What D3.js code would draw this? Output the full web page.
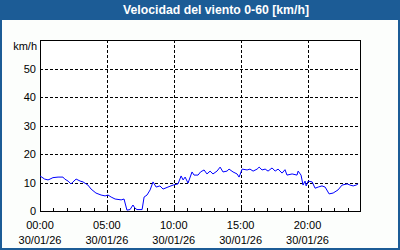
<!DOCTYPE html>
<html>
<head>
<meta charset="utf-8">
<script src="https://cdn.jsdelivr.net/npm/d3@7"></script>
<style>
  body { margin: 0; background: #fff; }
  text { font-family: "Liberation Sans", Arial, sans-serif; font-size: 11px; fill: #000; }
</style>
</head>
<body>
<div id="chart"></div>
<script>
// Constants
var width = 400;
var height = 250;
var title = "Velocidad del viento 0-60 [km/h]";
var unit = "km/h";
var dateLabel = "30/01/26";

// Data
var times = ["00:00","00:21","00:36","00:45","00:58","01:21","01:43","01:51","02:06","02:19",
  "02:28","02:42","03:00","03:13","03:35","03:49","04:11","04:34","04:52","05:05",
  "05:19","05:37","06:04","06:17","06:30","06:44","06:57","07:06","07:15","07:38",
  "07:47","08:00","08:14","08:27","08:41","08:58","09:12","09:34","09:57","10:19",
  "10:33","10:42","10:51","11:04","11:22","11:31","11:49","12:00","12:16","12:29",
  "12:43","12:56","13:14","13:28","13:41","13:59","14:08","14:26","14:44","14:53",
  "15:07","15:29","15:42","15:56","16:14","16:23","16:36","16:50","17:03","17:21",
  "17:35","17:48","18:06","18:19","18:28","18:51","19:13","19:18","19:31","19:40",
  "19:49","19:54","20:03","20:21","20:34","20:48","21:05","21:19","21:37","21:55",
  "22:17","22:35","22:58","23:11","23:25","23:38","23:47"];
var speeds = [12.3,11.2,10.9,11.2,11.7,11.9,11.9,11.2,10.5,9.5,
  10.2,11.2,10.5,10.2,9.1,7.7,6.3,5.6,5.3,5.6,
  4.9,4.2,3.9,4.2,0.3,0.5,2.1,1.0,0.5,0.5,
  4.9,5.6,7.4,10.2,8.4,8.8,7.7,8.4,9.1,9.5,
  12.3,10.9,11.9,9.8,13.7,12.6,12.6,13.7,14.4,13.0,
  14.0,13.0,14.0,15.4,13.7,14.0,14.7,13.7,13.0,11.9,
  14.7,14.4,14.7,14.0,14.7,15.4,14.4,14.7,14.0,15.1,
  14.0,14.7,13.3,14.5,12.6,13.0,12.6,14.0,12.6,9.1,
  10.5,8.8,10.5,10.2,8.0,8.4,8.8,8.4,6.0,6.3,
  7.4,9.1,9.5,9.1,8.8,9.1,9.5];
var yTicks = [0, 10, 20, 30, 40, 50];
var xLabelHours = [0, 5, 10, 15, 20];

var parseTime = d3.timeParse("%H:%M");
var data = times.map(function(t, i) { return { t: parseTime(t), v: speeds[i] }; });
var day0 = parseTime("00:00");
var day1 = d3.timeDay.offset(day0, 1);

// Plot area
var plotL = 40, plotR = 361, plotT = 40, plotB = 211;

var x = d3.scaleTime().domain([day0, day1]).range([plotL, plotR]);
var y = d3.scaleLinear().domain([0, 60]).range([plotB, plotT]);

var svg = d3.select("#chart")
  .append("svg")
    .attr("width", width)
    .attr("height", height);

// Background and frame
svg.append("rect")
  .attr("x", 1).attr("y", 1)
  .attr("width", width - 2).attr("height", height - 2)
  .style("fill", "#fcfefc")
  .style("stroke", "#1c5c96")
  .style("stroke-width", 2);

// Title bar
svg.append("rect")
  .attr("x", 0).attr("y", 0)
  .attr("width", width).attr("height", 20)
  .style("fill", "#1c5c96");

svg.append("text")
  .attr("x", 123).attr("y", 14)
  .attr("textLength", 186)
  .attr("lengthAdjust", "spacingAndGlyphs")
  .style("font-weight", "bold")
  .style("font-size", "12px")
  .style("fill", "#fff")
  .text(title);

// Plot background
svg.append("rect")
  .attr("x", plotL).attr("y", plotT)
  .attr("width", plotR - plotL).attr("height", plotB - plotT)
  .style("fill", "#fff");

// Horizontal grid
svg.append("g")
  .selectAll("line")
  .data(yTicks.filter(function(d) { return d > 0; }))
  .enter().append("line")
    .attr("x1", plotL).attr("x2", plotR)
    .attr("y1", function(d) { return Math.round(y(d)) + 0.5; })
    .attr("y2", function(d) { return Math.round(y(d)) + 0.5; })
    .style("stroke", "#000")
    .style("stroke-dasharray", "3,2");

// Vertical grid
svg.append("g")
  .selectAll("line")
  .data(xLabelHours.filter(function(d) { return d > 0; }))
  .enter().append("line")
    .attr("x1", function(d) { return Math.round(x(d3.timeHour.offset(day0, d))) + 0.5; })
    .attr("x2", function(d) { return Math.round(x(d3.timeHour.offset(day0, d))) + 0.5; })
    .attr("y1", plotT).attr("y2", plotB)
    .style("stroke", "#000")
    .style("stroke-dasharray", "3,2");

// Hour ticks along the bottom
svg.append("g")
  .selectAll("line")
  .data(d3.timeHour.range(day0, day1))
  .enter().append("line")
    .attr("x1", function(d) { return Math.round(x(d)) + 0.5; })
    .attr("x2", function(d) { return Math.round(x(d)) + 0.5; })
    .attr("y1", plotB - 3).attr("y2", plotB)
    .style("stroke", "#000");

// Plot frame
svg.append("rect")
  .attr("x", plotL + 0.5).attr("y", plotT + 0.5)
  .attr("width", plotR - plotL - 1).attr("height", plotB - plotT)
  .style("fill", "none")
  .style("stroke", "#000");

// Wind speed line
var line = d3.line()
  .x(function(d) { return x(d.t); })
  .y(function(d) { return y(d.v); });

svg.append("path")
  .datum(data)
  .attr("d", line)
  .style("fill", "none")
  .style("stroke", "#0000ff")
  .style("stroke-width", 1);

// Y labels
svg.append("g")
  .selectAll("text")
  .data(yTicks)
  .enter().append("text")
    .attr("x", 36)
    .attr("y", function(d) { return y(d) + 4; })
    .attr("text-anchor", "end")
    .text(function(d) { return d; });

svg.append("text")
  .attr("x", 37).attr("y", 50)
  .attr("text-anchor", "end")
  .text(unit);

// X labels (time and date)
var fmt = d3.timeFormat("%H:%M");
var xl = svg.append("g")
  .selectAll("g")
  .data(xLabelHours)
  .enter().append("g")
    .attr("transform", function(d) { return "translate(" + x(d3.timeHour.offset(day0, d)) + ",0)"; });

xl.append("text")
  .attr("y", 229)
  .attr("text-anchor", "middle")
  .text(function(d) { return fmt(d3.timeHour.offset(day0, d)); });

xl.append("text")
  .attr("y", 244)
  .attr("text-anchor", "middle")
  .text(dateLabel);
</script>
</body>
</html>
